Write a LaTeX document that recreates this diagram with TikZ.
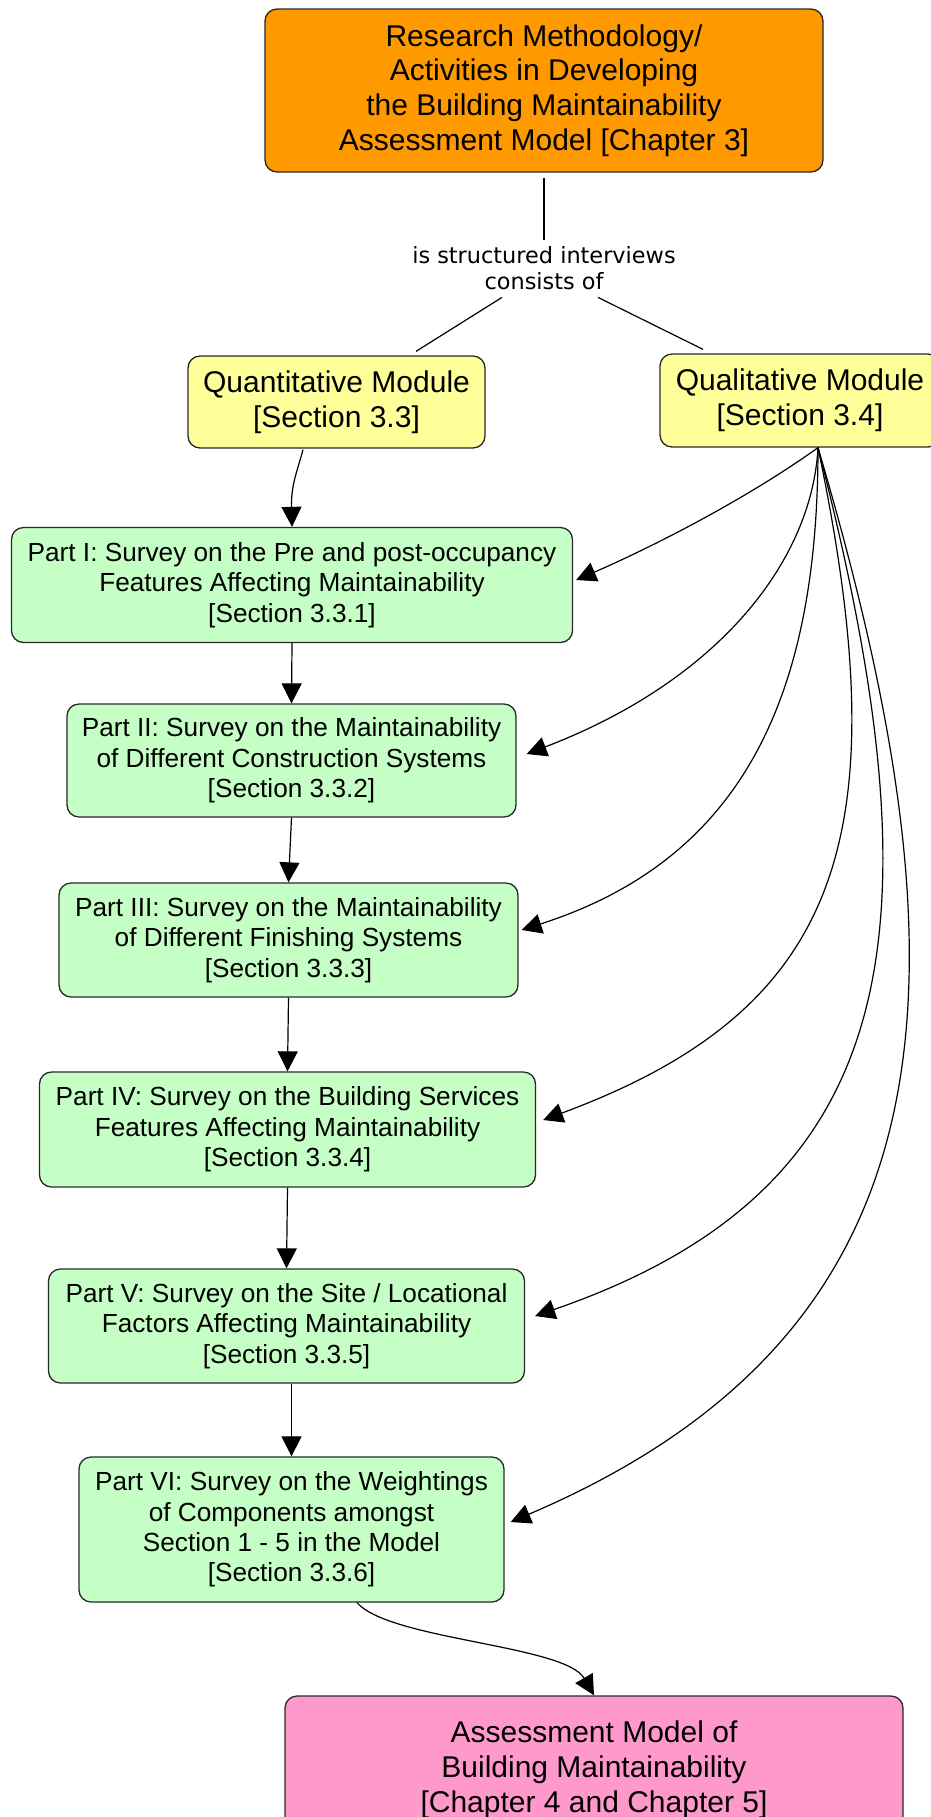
\documentclass[tikz,border=0pt]{standalone}
\usepackage{fontspec}
\setmainfont{Liberation Sans}
\newfontfamily\linkfont{DejaVu Sans}
\usetikzlibrary{arrows.meta}
\definecolor{methodorange}{RGB}{255,153,0}
\definecolor{moduleyellow}{RGB}{255,255,153}
\definecolor{partgreen}{RGB}{198,255,198}
\definecolor{modelpink}{RGB}{255,153,204}
\definecolor{edgegray}{RGB}{40,40,40}
\begin{document}
\begin{tikzpicture}[x=0.5pt,y=-0.5pt,
  box/.style={draw=edgegray, line width=0.65pt, rounded corners=6pt, align=center, inner sep=0pt},
  bigtext/.style={font=\fontsize{15}{17.4}\selectfont},
  parttext/.style={font=\fontsize{13.1}{15.2}\selectfont},
  modbox/.style={box, bigtext, fill=moduleyellow},
  partbox/.style={box, parttext, fill=partgreen},
  conn/.style={draw=black, line width=0.6pt},
  arr/.style={conn, -{Triangle[length=10pt,width=10pt]}},
]
\useasboundingbox (0,0) rectangle (931,1817);

% concept boxes
\node[box, bigtext, fill=methodorange, minimum width=279pt, minimum height=81.5pt] (method) at (544,90.5)
  {Research Methodology/\\Activities in Developing\\the Building Maintainability\\Assessment Model [Chapter 3]};
\node[font=\linkfont\fontsize{11.2}{13}\selectfont, align=center, inner sep=0pt,
  minimum width=150pt, minimum height=35pt] (link) at (544,268)
  {is structured interviews\\consists of};
\node[modbox, minimum width=148.5pt, minimum height=46pt] (quant) at (336.5,402)
  {Quantitative Module\\{[Section 3.3]}};
\node[modbox, minimum width=140pt, minimum height=46.5pt] (qual) at (800,400.5)
  {Qualitative Module\\{[Section 3.4]}};

\node[partbox, minimum width=280.5pt, minimum height=57.5pt] (p1) at (292,585)
  {Part I: Survey on the Pre and post-occupancy\\Features Affecting Maintainability\\{[Section 3.3.1]}};
\node[partbox, minimum width=224.5pt, minimum height=56.5pt] (p2) at (291.5,760.5)
  {Part II: Survey on the Maintainability\\of Different Construction Systems\\{[Section 3.3.2]}};
\node[partbox, minimum width=229.5pt, minimum height=57pt] (p3) at (288.5,940)
  {Part III: Survey on the Maintainability\\of Different Finishing Systems\\{[Section 3.3.3]}};
\node[partbox, minimum width=248pt, minimum height=57.5pt] (p4) at (287.5,1129.5)
  {Part IV: Survey on the Building Services\\Features Affecting Maintainability\\{[Section 3.3.4]}};
\node[partbox, minimum width=238pt, minimum height=57pt] (p5) at (286.5,1326)
  {Part V: Survey on the Site / Locational\\Factors Affecting Maintainability\\{[Section 3.3.5]}};
\node[partbox, minimum width=212.5pt, minimum height=72.5pt] (p6) at (291.5,1529.5)
  {Part VI: Survey on the Weightings\\of Components amongst\\Section 1 - 5 in the Model\\{[Section 3.3.6]}};

\node[box, bigtext, fill=modelpink, minimum width=309pt, minimum height=74pt] (model) at (594,1770)
  {Assessment Model of\\Building Maintainability\\{[Chapter 4 and Chapter 5]}};

% linking phrase
\draw[conn, shorten <=2.5pt] (method.south) -- ([yshift=-3.5pt]link.north);
\draw[conn] ([xshift=-21pt,yshift=3pt]link.south) -- ([xshift=39.75pt,yshift=2pt]quant.north);
\draw[conn] ([xshift=27pt,yshift=3pt]link.south) -- ([xshift=-48.5pt,yshift=2pt]qual.north);

% quantitative chain
\draw[arr] ([xshift=-16.75pt,yshift=-0.5pt]quant.south) .. controls (297,472) and (291,485) .. (p1.north);
\draw[arr] (p1.south) -- (p2.north);
\draw[arr] (p2.south) -- (p3.north);
\draw[arr] (p3.south) -- (p4.north);
\draw[arr] (p4.south) -- (p5.north);
\draw[arr] (p6.north |- p5.south) -- (p6.north);

% qualitative fan
\coordinate (fan) at ([xshift=9pt]qual.south);
\draw[arr] (fan) .. controls (745,500) and (650,548) .. ([xshift=1.5pt,yshift=2.5pt]p1.east);
\draw[arr] (fan) .. controls (812,560) and (720,680) .. ([xshift=5pt,yshift=3.25pt]p2.east);
\draw[arr] (fan) .. controls (818,700) and (740,860) .. ([xshift=1.5pt,yshift=5pt]p3.east);
\draw[arr] (fan) .. controls (900,840) and (840,1010) .. ([xshift=3.5pt,yshift=4.75pt]p4.east);
\draw[arr] (fan) .. controls (945,940) and (900,1190) .. ([xshift=5pt,yshift=5pt]p5.east);
\draw[arr] (fan) .. controls (975,980) and (960,1330) .. ([xshift=3pt,yshift=3.75pt]p6.east);

% result
\draw[arr] ([xshift=32.75pt]p6.south) .. controls (390,1640) and (565,1645) .. (model.north);
\end{tikzpicture}
\end{document}
